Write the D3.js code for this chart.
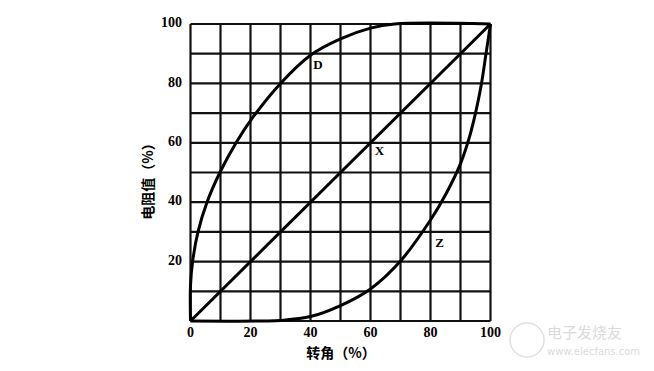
<!DOCTYPE html>
<html><head><meta charset="utf-8">
<script src="https://cdn.jsdelivr.net/npm/d3@7"></script>
<style>body{margin:0;background:#fff}</style></head>
<body><svg id="c" width="654" height="371"></svg>
<script>
const xTicks = [0, 20, 40, 60, 80, 100];
const yTicks = [20, 40, 60, 80, 100];
const gridVals = [0,10,20,30,40,50,60,70,80,90,100];
const curveD = [[0,0],[0,12],[0.7,20],[2.5,30],[5.5,40],[9.8,50],[15.2,60],[20,67.5],[30,80],[40,89.5],[50,95],[60,98.6],[68,100],[100,100]];
const curveX = [[0,0],[100,100]];
const curveZ = [[0,0],[25,0],[30,0.2],[40,1.5],[50,5.2],[60,10.8],[70,20.2],[80,34],[85,42.5],[90,53],[93,62],[95,70],[97,80],[98.5,90],[100,100]];
const curveLabels = [["D",42.5,86],["X",63,57],["Z",83,26]];

const svg = d3.select("#c");
const x = d3.scaleLinear().domain([0,100]).range([190.5,490.5]);
const y = d3.scaleLinear().domain([0,100]).range([321,24]);
const serif = "'Liberation Serif','DejaVu Serif',serif";
const cjk = "'Noto Sans CJK SC',sans-serif";

const g = svg.append("g");
g.selectAll(".vg").data(gridVals).join("line")
  .attr("x1",d=>x(d)).attr("x2",d=>x(d)).attr("y1",y(0)).attr("y2",y(100))
  .attr("stroke","#111").attr("stroke-width",2.2);
g.selectAll(".hg").data(gridVals).join("line")
  .attr("y1",d=>y(d)).attr("y2",d=>y(d)).attr("x1",x(0)).attr("x2",x(100))
  .attr("stroke","#111").attr("stroke-width",2.2);

const line = d3.line().x(d=>x(d[0])).y(d=>y(d[1])).curve(d3.curveCatmullRom.alpha(0.5));
g.append("path").attr("d",line(curveD)).attr("fill","none").attr("stroke","#000").attr("stroke-width",3);
g.append("path").attr("d",line(curveX)).attr("fill","none").attr("stroke","#000").attr("stroke-width",3);
g.append("path").attr("d",line(curveZ)).attr("fill","none").attr("stroke","#000").attr("stroke-width",3);

g.selectAll(".cl").data(curveLabels).join("text")
  .attr("x",d=>x(d[1])).attr("y",d=>y(d[2]))
  .attr("text-anchor","middle").attr("dominant-baseline","middle")
  .attr("font-family",serif).attr("font-weight","bold").attr("font-size",13)
  .text(d=>d[0]);

g.selectAll(".yt").data(yTicks).join("text")
  .attr("x",182).attr("y",d=>y(d)).attr("text-anchor","end").attr("dominant-baseline","middle")
  .attr("font-family",serif).attr("font-weight","bold").attr("font-size",14).text(d=>d);
g.selectAll(".xt").data(xTicks).join("text")
  .attr("x",d=>x(d)).attr("y",334).attr("text-anchor","middle").attr("dominant-baseline","middle")
  .attr("font-family",serif).attr("font-weight","bold").attr("font-size",14).text(d=>d);

g.append("text").attr("transform","translate(149,178) rotate(-90)")
  .attr("text-anchor","middle").attr("dominant-baseline","middle")
  .attr("font-family",cjk).attr("font-weight","bold").attr("font-size",14).text("电阻值（%）");
g.append("text").attr("x",341).attr("y",354)
  .attr("text-anchor","middle").attr("dominant-baseline","middle")
  .attr("font-family",cjk).attr("font-weight","bold").attr("font-size",14).text("转角（%）");

// watermark
const wm = svg.append("g").attr("opacity",0.35);
wm.append("circle").attr("cx",527).attr("cy",340).attr("r",17).attr("fill","none").attr("stroke","#aaa").attr("stroke-width",1.5);
wm.append("text").attr("x",547).attr("y",338).attr("font-family",cjk).attr("font-size",15).attr("fill","#999").text("电子发烧友");
wm.append("text").attr("x",547).attr("y",355).attr("font-family","'DejaVu Sans',sans-serif").attr("font-size",10).attr("fill","#999").text("www.elecfans.com");
</script></body></html>
